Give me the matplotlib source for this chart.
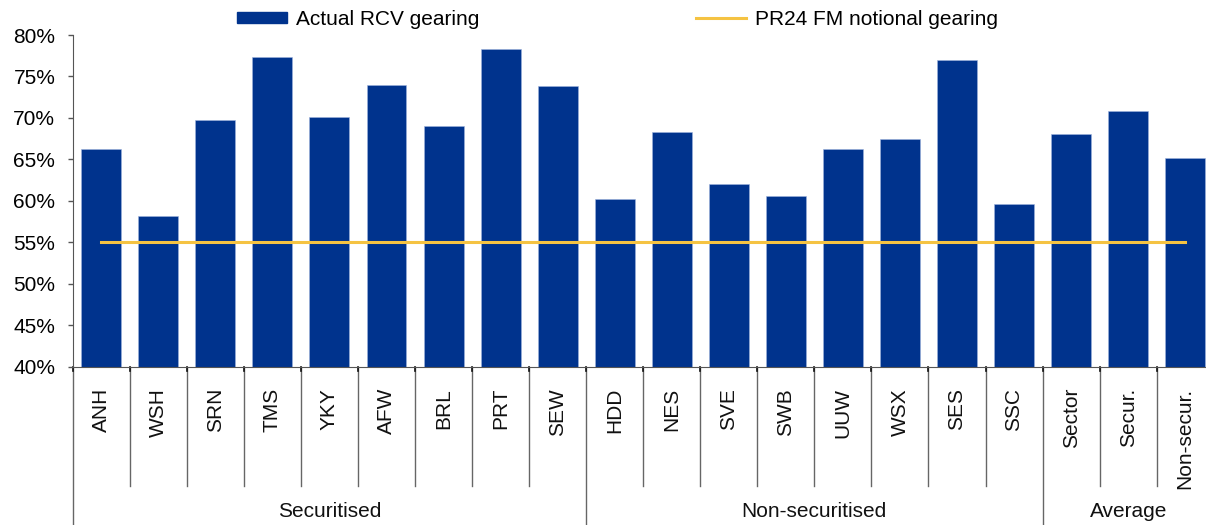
import matplotlib
matplotlib.use("Agg")
import matplotlib.pyplot as plt
import matplotlib.transforms as mtransforms
from matplotlib.patches import Patch
from matplotlib.lines import Line2D
from matplotlib.ticker import FuncFormatter

plt.rcParams['font.family'] = ['Liberation Sans', 'DejaVu Sans']

# data
companies = ["ANH", "WSH", "SRN", "TMS", "YKY", "AFW", "BRL", "PRT", "SEW",
             "HDD", "NES", "SVE", "SWB", "UUW", "WSX", "SES", "SSC",
             "Sector", "Secur.", "Non-secur."]
gearing = [66.2, 58.2, 69.8, 77.4, 70.1, 74.0, 69.0, 78.3, 73.9,
           60.2, 68.3, 62.0, 60.6, 66.2, 67.5, 77.0, 59.6,
           68.1, 70.8, 65.2]
notional = [55.0] * len(companies)
groups = ["Securitised", "Non-securitised", "Average"]
group_sizes = [9, 8, 3]

BLUE = "#00338D"
YELLOW = "#F5C342"
FS = 15

fig = plt.figure(figsize=(12.06, 5.25), dpi=100)
ax = fig.add_axes([0.0603, 0.3015, 0.9461, 0.6318])

x = list(range(len(companies)))
ax.bar(x, gearing, width=0.7, color=BLUE, edgecolor="#9fb3dd", linewidth=0.4, zorder=2)
ax.plot(x, notional, color=YELLOW, linewidth=2.2, zorder=3)

ax.set_xlim(-0.5, len(companies) - 0.5)
ax.set_ylim(40, 80)
ax.set_yticks(range(40, 81, 5))
ax.yaxis.set_major_formatter(FuncFormatter(lambda v, p: f"{v:.0f}%"))
ax.tick_params(axis="y", labelsize=FS, length=3.5, width=1, color="#555555", pad=9)
ax.set_xticks([])

for s in ["top", "right"]:
    ax.spines[s].set_visible(False)
ax.spines["left"].set_color("#555555")
ax.spines["bottom"].set_color("#555555")

trans = mtransforms.blended_transform_factory(ax.transData, ax.transAxes)

# category labels
for i, name in enumerate(companies):
    ax.text(i, -0.064, name, transform=trans, rotation=90, ha="center", va="top",
            fontsize=FS, color="#111111")

# separators between categories and groups
bounds = [0]
for g in group_sizes:
    bounds.append(bounds[-1] + g)
group_edges = set(bounds)
for b in range(len(companies) + 1):
    xb = b - 0.5
    y_end = -0.477 if b in group_edges else -0.359
    ax.plot([xb, xb], [0, y_end], transform=trans, color="#666666", linewidth=1,
            clip_on=False, zorder=1)
    # short dark tick under the axis
    ax.plot([xb, xb], [0, -0.012], transform=trans, color="#111111", linewidth=1.2,
            clip_on=False, zorder=1)

for gname, start, size in zip(groups, bounds[:-1], group_sizes):
    center = start + size / 2 - 0.5
    ax.text(center, -0.438, gname, transform=trans, ha="center", va="center",
            fontsize=FS, color="#111111")

handles = [Patch(facecolor=BLUE, edgecolor=BLUE),
           Line2D([0], [0], color=YELLOW, linewidth=2.2)]
fig.legend(handles, ["Actual RCV gearing", "PR24 FM notional gearing"],
           loc="center", bbox_to_anchor=(0.512, 0.963), ncol=2, frameon=False,
           fontsize=FS, handlelength=2.4, handleheight=0.48, handletextpad=0.43,
           columnspacing=10.4, borderaxespad=0)

fig.savefig("out.png", dpi=100)
